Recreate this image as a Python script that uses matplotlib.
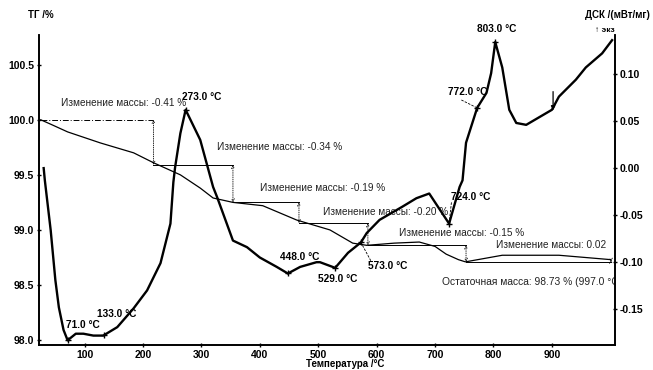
import numpy as np
import matplotlib
matplotlib.use("Agg")
import matplotlib.pyplot as plt

plt.rcParams['font.family'] = ['Liberation Sans', 'DejaVu Sans']

# ---- data ----
tg_temp = [25, 42, 71, 127, 184, 218, 264, 298, 320, 354, 405, 463, 520, 559, 583,
           630, 673, 700, 719, 740, 752, 815, 912, 1001]
tg_mass = [100.0, 99.96, 99.89, 99.79, 99.70, 99.61, 99.50, 99.38, 99.29, 99.25, 99.22,
           99.09, 99.00, 98.88, 98.86, 98.88, 98.89, 98.85, 98.78, 98.73, 98.71, 98.77,
           98.77, 98.73]

dsc_temp = [30, 32, 42, 50, 56, 64, 71, 85, 98, 115, 132, 156, 184, 207, 230, 247, 252,
            255, 264, 273, 298, 320, 327, 354, 378, 400, 429, 448, 469, 497, 503, 529,
            551, 573, 583, 605, 644, 668, 690, 724, 742, 747, 753, 771, 772, 788, 796,
            803, 815, 827, 839, 856, 900, 912, 941, 958, 986, 1003]
dsc_val = [0.000, -0.013, -0.066, -0.119, -0.148, -0.172, -0.183, -0.176, -0.176, -0.178,
           -0.178, -0.169, -0.149, -0.130, -0.101, -0.059, -0.015, 0.001, 0.037, 0.062,
           0.030, -0.020, -0.031, -0.077, -0.084, -0.095, -0.105, -0.112, -0.105, -0.100,
           -0.100, -0.106, -0.090, -0.079, -0.069, -0.055, -0.041, -0.032, -0.027, -0.059,
           -0.020, -0.013, 0.027, 0.062, 0.064, 0.080, 0.101, 0.134, 0.107, 0.062, 0.048,
           0.046, 0.062, 0.076, 0.094, 0.107, 0.122, 0.136]

step_temps = [25, 218, 354, 467, 585, 753, 1001]
step_masses = [100.0, 99.59, 99.25, 99.06, 98.86, 98.71, 98.73]
step_labels = ["Изменение массы: -0.41 %", "Изменение массы: -0.34 %",
               "Изменение массы: -0.19 %", "Изменение массы: -0.20 %",
               "Изменение массы: -0.15 %", "Изменение массы: 0.02"]
step_label_pos = [(59, 100.15), (327, 99.75), (400, 99.38), (508, 99.16),
                  (639, 98.97), (805, 98.86)]

peak_temps = [71.0, 133.0, 273.0, 448.0, 529.0, 573.0, 724.0, 772.0, 803.0]
peak_label_pos = [(68, 98.14), (122, 98.24), (267, 100.21), (434, 98.75), (499, 98.55),
                  (585, 98.67), (728, 99.30), (722, 100.25), (772, 100.82)]

residual_text = "Остаточная масса: 98.73 % (997.0 °C)"
marker_temp = 902

x_ticks = [100, 200, 300, 400, 500, 600, 700, 800, 900]
tg_ticks = [98.0, 98.5, 99.0, 99.5, 100.0, 100.5]
dsc_ticks = [-0.15, -0.10, -0.05, 0.00, 0.05, 0.10]

# ---- figure ----
W, H = 653, 370
fig = plt.figure(figsize=(W / 100, H / 100), dpi=100)
ax = fig.add_axes([39 / W, 1 - 345 / H, (615 - 39) / W, (345 - 35) / H])
ax2 = ax.twinx()

ax.set_xlim(22, 1008)
ax.set_ylim(97.955, 100.77)
ax2.set_ylim(-0.188, 0.1415)

for a in (ax, ax2):
    a.spines['top'].set_visible(False)
    for s in ('left', 'right', 'bottom'):
        a.spines[s].set_linewidth(1.2)

ax.plot(tg_temp, tg_mass, color='black', lw=0.9)
ax2.plot(dsc_temp, dsc_val, color='black', lw=1.7)

# steps on TG
for i in range(len(step_temps) - 1):
    ls = (0, (6, 2, 1, 2)) if i == 0 else '-'
    ax.plot([step_temps[i], step_temps[i + 1]], [step_masses[i], step_masses[i]],
            color='black', lw=0.7, ls=ls)
    ax.annotate('', xy=(step_temps[i + 1], step_masses[i + 1]),
                xytext=(step_temps[i + 1], step_masses[i]),
                arrowprops=dict(arrowstyle='<->', lw=0.6, color='black',
                                linestyle=':', shrinkA=0, shrinkB=0,
                                mutation_scale=5))
    tx, ty = step_label_pos[i]
    ax.text(tx, ty, step_labels[i], fontsize=7.2, color='#222222',
            va='center', ha='left', clip_on=True)

ax.text(712, 98.53, residual_text, fontsize=7.4, color='#222222', va='center',
        ha='left', clip_on=True)

# peaks on DSC
pv = np.interp(peak_temps, dsc_temp, dsc_val)
ax2.plot(peak_temps, pv, ls='none', marker='+', ms=5, mew=1.0, color='black')

# small arrow mark on DSC
mv = np.interp(marker_temp, dsc_temp, dsc_val)
ax2.annotate('', xy=(marker_temp, mv - 0.003), xytext=(marker_temp, mv + 0.017),
             arrowprops=dict(arrowstyle='-|>', lw=0.9, color='black', mutation_scale=6,
                             shrinkA=0, shrinkB=0))

tg_lo, tg_hi = ax.get_ylim()
d_lo, d_hi = ax2.get_ylim()
for t, v, (lx, ly) in zip(peak_temps, pv, peak_label_pos):
    lab = f"{t:.1f} °C"
    ax.text(lx, ly, lab, fontsize=7.3, fontweight='bold', va='center', ha='left',
            clip_on=False)

# leader lines for some labels (convert DSC value into TG coords)
def dsc_to_tg(v):
    return tg_lo + (v - d_lo) / (d_hi - d_lo) * (tg_hi - tg_lo)

for t, (lx, ly) in [(724.0, (728, 99.25)), (772.0, (745, 100.18)), (573.0, (590, 98.72))]:
    v = np.interp(t, dsc_temp, dsc_val)
    ax.plot([lx, t], [ly, dsc_to_tg(v)], color='black', lw=0.6, ls=(0, (3, 1.5)))

ax.set_xticks(x_ticks)
ax.set_yticks(tg_ticks)
ax.set_yticklabels([f"{v:.1f}" for v in tg_ticks])
ax2.set_yticks(dsc_ticks)
ax2.set_yticklabels([f"{v:.2f}" for v in dsc_ticks])

for a in (ax, ax2):
    a.tick_params(labelsize=7.5, length=3, width=1, direction='inout', pad=2)
    for lbl in a.get_xticklabels() + a.get_yticklabels():
        lbl.set_fontweight('bold')

fig.text(28 / W, 1 - 15 / H, "ТГ /%", fontsize=7, fontweight='bold', va='center', ha='left')
fig.text(650 / W, 1 - 15 / H, "ДСК /(мВт/мг)", fontsize=7, fontweight='bold',
         va='center', ha='right')
fig.text(615 / W, 1 - 30 / H, "↑ экз", fontsize=6, fontweight='bold', va='center',
         ha='right')
fig.text(345 / W, 1 - 364 / H, "Температура /°C", fontsize=7, fontweight='bold',
         va='center', ha='center')

fig.savefig("out.png", dpi=100)
